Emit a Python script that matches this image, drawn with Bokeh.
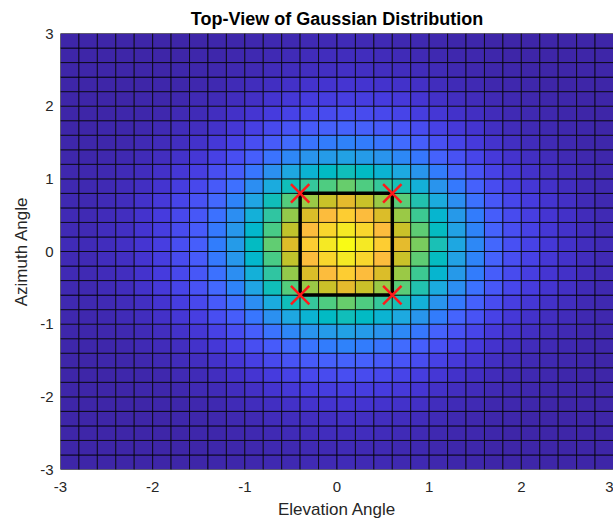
import numpy as np
from bokeh.plotting import figure
from bokeh.models import LinearColorMapper, ColumnDataSource, FixedTicker, Range1d, PrintfTickFormatter
from bokeh.transform import transform
from bokeh.embed import file_html
from bokeh.resources import INLINE

# ---- data ----
grid_edges = [-3.0, -2.8, -2.6, -2.4, -2.2, -2.0, -1.8, -1.6, -1.4, -1.2, -1.0,
              -0.8, -0.6, -0.4, -0.2, 0.0, 0.2, 0.4, 0.6, 0.8, 1.0,
              1.2, 1.4, 1.6, 1.8, 2.0, 2.2, 2.4, 2.6, 2.8, 3.0]
# relative height along Elevation (value at each cell's lower-left vertex)
elev_profile = [0.02, 0.02, 0.03, 0.04, 0.06, 0.09, 0.13, 0.18, 0.26, 0.35,
                0.48, 0.63, 0.78, 0.88, 0.95, 1.00, 0.95, 0.88, 0.79, 0.66,
                0.51, 0.39, 0.29, 0.20, 0.14, 0.10, 0.07, 0.05, 0.03, 0.02]
# relative height along Azimuth
azim_profile = [0.02, 0.02, 0.03, 0.04, 0.06, 0.09, 0.13, 0.19, 0.27, 0.37,
                0.50, 0.64, 0.79, 0.88, 0.95, 1.00, 0.95, 0.88, 0.79, 0.64,
                0.50, 0.37, 0.27, 0.19, 0.13, 0.09, 0.06, 0.04, 0.03, 0.02]
box_elev = [-0.4, 0.6]
box_azim = [-0.6, 0.8]
tick_values = [-3, -2, -1, 0, 1, 2, 3]

# ---- parula colormap ----
parula64 = [
    (0.2422, 0.1504, 0.6603), (0.2504, 0.1650, 0.7076), (0.2578, 0.1818, 0.7511), (0.2647, 0.1978, 0.7952),
    (0.2706, 0.2147, 0.8364), (0.2751, 0.2342, 0.8710), (0.2783, 0.2559, 0.8991), (0.2803, 0.2782, 0.9221),
    (0.2813, 0.3006, 0.9414), (0.2810, 0.3228, 0.9579), (0.2795, 0.3447, 0.9717), (0.2760, 0.3667, 0.9829),
    (0.2699, 0.3892, 0.9906), (0.2602, 0.4123, 0.9952), (0.2440, 0.4358, 0.9988), (0.2206, 0.4603, 0.9973),
    (0.1963, 0.4847, 0.9892), (0.1834, 0.5074, 0.9798), (0.1786, 0.5289, 0.9682), (0.1764, 0.5499, 0.9520),
    (0.1687, 0.5703, 0.9359), (0.1540, 0.5902, 0.9218), (0.1460, 0.6091, 0.9079), (0.1380, 0.6276, 0.8973),
    (0.1248, 0.6459, 0.8883), (0.1113, 0.6635, 0.8763), (0.0952, 0.6798, 0.8598), (0.0689, 0.6948, 0.8394),
    (0.0297, 0.7082, 0.8163), (0.0036, 0.7203, 0.7917), (0.0067, 0.7312, 0.7660), (0.0433, 0.7411, 0.7394),
    (0.0964, 0.7500, 0.7120), (0.1408, 0.7584, 0.6842), (0.1717, 0.7670, 0.6554), (0.1938, 0.7758, 0.6251),
    (0.2161, 0.7843, 0.5923), (0.2470, 0.7918, 0.5567), (0.2906, 0.7973, 0.5188), (0.3406, 0.8008, 0.4789),
    (0.3909, 0.8029, 0.4354), (0.4456, 0.8024, 0.3909), (0.5044, 0.7993, 0.3480), (0.5616, 0.7942, 0.3045),
    (0.6174, 0.7876, 0.2612), (0.6720, 0.7793, 0.2227), (0.7242, 0.7698, 0.1910), (0.7738, 0.7598, 0.1646),
    (0.8203, 0.7498, 0.1535), (0.8634, 0.7406, 0.1596), (0.9035, 0.7330, 0.1774), (0.9393, 0.7288, 0.2100),
    (0.9728, 0.7298, 0.2394), (0.9956, 0.7434, 0.2371), (0.9970, 0.7659, 0.2199), (0.9952, 0.7893, 0.2028),
    (0.9892, 0.8136, 0.1885), (0.9786, 0.8386, 0.1766), (0.9676, 0.8639, 0.1643), (0.9610, 0.8890, 0.1537),
    (0.9597, 0.9135, 0.1423), (0.9628, 0.9373, 0.1265), (0.9691, 0.9606, 0.1064), (0.9769, 0.9839, 0.0805),
]
arr = np.array(parula64)
pos64 = np.linspace(0, 1, 64)
pos256 = np.linspace(0, 1, 256)
palette = []
for t in pos256:
    r, g, b = (np.interp(t, pos64, arr[:, k]) for k in range(3))
    palette.append("#%02x%02x%02x" % (int(round(r * 255)), int(round(g * 255)), int(round(b * 255))))

# ---- build cell table ----
left, right, bottom, top, val = [], [], [], [], []
n = len(elev_profile)
for j in range(len(azim_profile)):
    for i in range(n):
        left.append(grid_edges[i])
        right.append(grid_edges[i + 1])
        bottom.append(grid_edges[j])
        top.append(grid_edges[j + 1])
        val.append(elev_profile[i] * azim_profile[j])
src = ColumnDataSource(dict(left=left, right=right, bottom=bottom, top=top, val=val))
mapper = LinearColorMapper(palette=palette, low=min(val), high=max(val))

p = figure(width=613, height=522, output_backend="svg", toolbar_location=None,
           title="Top-View of Gaussian Distribution",
           x_range=Range1d(-3, 3), y_range=Range1d(-3, 3),
           min_border_left=60, min_border_right=0, min_border_top=33, min_border_bottom=53)
p.background_fill_color = "white"
p.outline_line_color = "#bdbdbd"

p.quad(source=src, left="left", right="right", bottom="bottom", top="top",
       fill_color=transform("val", mapper), line_color="black", line_alpha=0.75, line_width=1)

sq_x = [box_elev[0], box_elev[1], box_elev[1], box_elev[0], box_elev[0]]
sq_y = [box_azim[1], box_azim[1], box_azim[0], box_azim[0], box_azim[1]]
p.line(sq_x, sq_y, line_color="black", line_width=3.5)
p.scatter([box_elev[0], box_elev[1], box_elev[1], box_elev[0]],
          [box_azim[1], box_azim[1], box_azim[0], box_azim[0]],
          marker="x", size=26, line_color="#ff1a1a", line_width=2.5)

p.grid.visible = False
for ax in (p.xaxis[0], p.yaxis[0]):
    ax.ticker = FixedTicker(ticks=tick_values)
    ax.formatter = PrintfTickFormatter(format="%d")
    ax.axis_line_color = None
    ax.major_tick_line_color = None
    ax.minor_tick_line_color = None
    ax.major_tick_out = 0
    ax.major_tick_in = 0
    ax.minor_tick_out = 0
    ax.minor_tick_in = 0
    ax.major_label_text_font = "Liberation Sans"
    ax.major_label_text_font_size = "15px"
    ax.major_label_text_color = "#262626"
    ax.axis_label_text_font = "Liberation Sans"
    ax.axis_label_text_font_size = "17px"
    ax.axis_label_text_font_style = "normal"
    ax.axis_label_text_color = "#262626"
p.xaxis.axis_label = "Elevation Angle"
p.yaxis.axis_label = "Azimuth Angle"
p.xaxis.major_label_standoff = 12
p.xaxis.axis_label_standoff = 5
p.yaxis.major_label_standoff = 7
p.yaxis.axis_label_standoff = 6

p.title.text_font = "Liberation Sans"
p.title.text_font_size = "18px"
p.title.text_font_style = "bold"
p.title.text_color = "black"
p.title.align = "center"

open("out.html", "w").write(file_html(p, INLINE))
